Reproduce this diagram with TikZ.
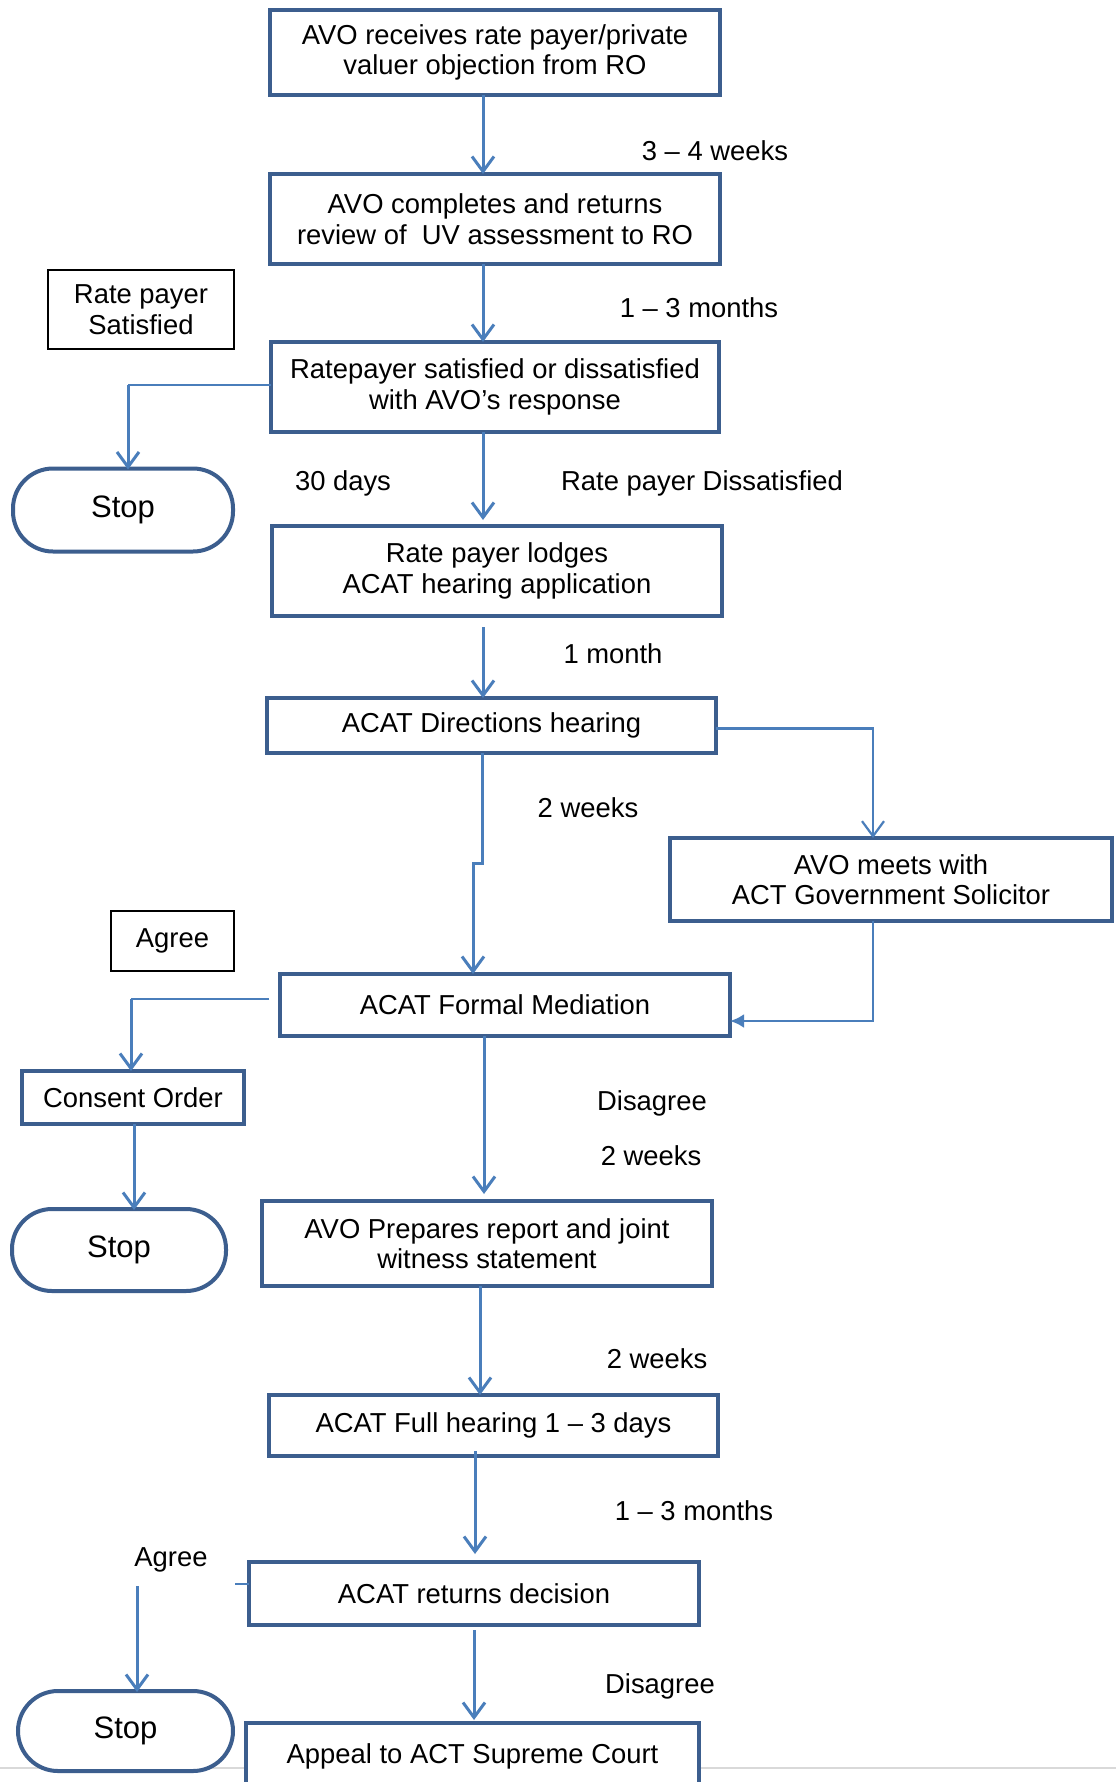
\documentclass[tikz,border=0pt]{standalone}
\usepackage{fontspec}
\setmainfont{Liberation Sans}
\usetikzlibrary{arrows.meta}
\definecolor{boxblue}{HTML}{3C5E8E}
\definecolor{arrblue}{HTML}{4A7EBB}
\begin{document}
\begin{tikzpicture}[x=1pt,y=-1pt,
  every node/.style={font=\fontsize{27.4}{30.5}\selectfont, inner sep=0pt, outer sep=0pt},
  box/.style={draw=boxblue, line width=4.2pt, fill=white, align=center},
  stopbox/.style={draw=boxblue, line width=4pt, fill=white, rounded corners=40pt, font=\fontsize{31}{34}\selectfont},
  thinbox/.style={draw=black, line width=2pt, fill=white, align=center},
  arr/.style={draw=arrblue, line width=3pt, -{Straight Barb[length=15pt,width=22pt]}},
  conn/.style={draw=arrblue, line width=1.8pt},
  lbl/.style={text=black}]
\useasboundingbox (0,0) rectangle (1116,1782);
\clip (0,0) rectangle (1116,1782);
\fill[white] (0,0) rectangle (1116,1782);
\draw[black!15, line width=2pt] (0,1768) -- (1116,1768);

% main boxes
\node[box, minimum width=450pt, minimum height=85pt] (b1) at (495,52.5) {AVO receives rate payer/private\\valuer objection from RO};
\node[box, minimum width=450pt, minimum height=90pt] (b2) at (495,219) {AVO completes and returns\\review of\ \ UV assessment to RO};
\node[box, minimum width=448pt, minimum height=90pt] (b3) at (495,387) {Ratepayer satisfied or dissatisfied\\with AVO’s response};
\node[box, minimum width=450pt, minimum height=90pt] (b4) at (497,571) {Rate payer lodges\\ACAT hearing application};
\node[box, minimum width=449pt, minimum height=55pt] (b5) at (491.5,725.5) {ACAT Directions hearing};
\node[box, minimum width=442pt, minimum height=83pt] (avo) at (891,879.5) {AVO meets with\\ACT Government Solicitor};
\node[box, minimum width=450pt, minimum height=62pt] (b6) at (505,1005) {ACAT Formal Mediation};
\node[box, minimum width=450pt, minimum height=85pt] (b7) at (487,1243.5) {AVO Prepares report and joint\\witness statement};
\node[box, minimum width=449pt, minimum height=61pt] (b8) at (493.5,1425.5) {ACAT Full hearing 1 – 3 days};
\node[box, minimum width=450pt, minimum height=63pt] (b9) at (474,1593.5) {ACAT returns decision};
\node[box, minimum width=453pt, minimum height=66pt, anchor=north] (b10) at (472.5,1723) {Appeal to ACT Supreme Court};
\node[box, minimum width=222pt, minimum height=53pt] (consent) at (133,1097.5) {Consent Order};

% side boxes
\node[thinbox, minimum width=186pt, minimum height=79pt] (sat) at (141,309.5) {Rate payer\\Satisfied};
\node[thinbox, minimum width=123pt, minimum height=60pt] (agreebox) at (172.5,941) {Agree};

% stops
\node[stopbox, minimum width=220pt, minimum height=83pt] (stop1) at (123,510) {Stop};
\node[stopbox, minimum width=214pt, minimum height=82pt] (stop2) at (119,1250) {Stop};
\node[stopbox, minimum width=215pt, minimum height=80pt] (stop3) at (125.5,1731) {Stop};

% coordinates for connectors
\coordinate (X1) at (483,0);
\coordinate (cS1) at (128,0);
\coordinate (cA) at (873,0);
\coordinate (j1) at (482,863);
\coordinate (j2) at (473,863);
\coordinate (k) at (873,1021);
\coordinate (m1) at (269,999);
\coordinate (m2) at (131,999);
\coordinate (cC) at (134,0);
\coordinate (X6) at (484,0);
\coordinate (X7) at (480,0);
\coordinate (X8) at (475,0);
\coordinate (X9) at (474,0);
\coordinate (t1) at (235,1584);
\coordinate (ag) at (137,1586);

% connectors
\draw[arr] (b1.south -| X1) -- (b2.north -| X1);
\draw[arr] (b2.south -| X1) -- (b3.north -| X1);
\draw[conn] ([yshift=2pt]b3.west) -- ([yshift=2pt]b3.west -| cS1);
\draw[arr] ([yshift=2pt]b3.west -| cS1) -- ([yshift=-1pt]stop1.north -| cS1);
\draw[arr] (b3.south -| X1) -- ([yshift=6pt]b4.north -| X1);
\draw[arr] ([yshift=-11pt]b4.south -| X1) -- (b5.north -| X1);
\draw[arr, line width=2.2pt] ([yshift=-3pt]b5.east) -- ([yshift=-3pt]b5.east -| cA) -- (avo.north -| cA);
\draw[arr] (b5.south -| j1) -- (j1) -- (j2) -- (b6.north -| j2);
\draw[draw=arrblue, line width=2.8pt, -{Latex[length=14pt,width=14pt]}] (avo.south -| k) -- (k) -- (k -| b6.east);
\draw[conn] (m1) -- (m2);
\draw[arr] (m2) -- (consent.north -| m2);
\draw[arr] (consent.south -| cC) -- ([yshift=-1pt]stop2.north -| cC);
\draw[arr] (b6.south -| X6) -- ([yshift=7pt]b7.north -| X6);
\draw[arr] (b7.south -| X7) -- (b8.north -| X7);
\draw[arr] ([yshift=5pt]b8.south -| X8) -- ([yshift=8pt]b9.north -| X8);
\draw[conn] (t1) -- (t1 -| b9.west);
\draw[arr] (ag) -- ([yshift=-1pt]stop3.north -| ag);
\draw[arr] ([yshift=-5pt]b9.south -| X9) -- ([yshift=3pt]b10.north -| X9);

% labels
\node[lbl] (l1) at (715,151) {3 – 4 weeks};
\node[lbl] (l2) at (699,308) {1 – 3 months};
\node[lbl] (l3) at (343,483) {30 days};
\node[lbl] (l4) at (702,483) {Rate payer Dissatisfied};
\node[lbl] (l5) at (613,654) {1 month};
\node[lbl] (l6) at (588,808) {2 weeks};
\node[lbl] (l7) at (652,1103) {Disagree};
\node[lbl] (l8) at (651,1156) {2 weeks};
\node[lbl] (l9) at (657,1359) {2 weeks};
\node[lbl] (l10) at (694,1511) {1 – 3 months};
\node[lbl] (l11) at (171,1560) {Agree};
\node[lbl] (l12) at (660,1686) {Disagree};
\end{tikzpicture}
\end{document}
